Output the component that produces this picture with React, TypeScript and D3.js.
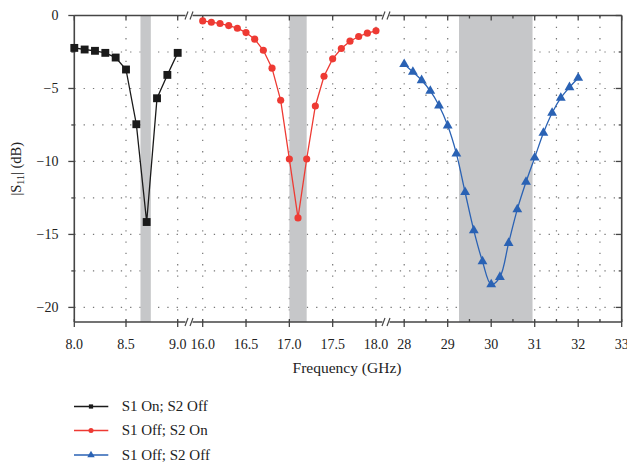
import React from "react";
import * as d3 from "d3";

const blackFreq = [8.0, 8.1, 8.2, 8.3, 8.4, 8.5, 8.6, 8.7, 8.8, 8.9, 9.0];
const blackVals = [-2.22, -2.33, -2.42, -2.56, -2.88, -3.7, -7.45, -14.15, -5.67, -4.07, -2.56];

const redFreq = [16.0, 16.1, 16.2, 16.3, 16.4, 16.5, 16.6, 16.7, 16.8, 16.9, 17.0, 17.1, 17.2, 17.3, 17.4, 17.5, 17.6, 17.7, 17.8, 17.9, 18.0];
const redVals = [-0.37, -0.46, -0.55, -0.69, -0.87, -1.17, -1.62, -2.38, -3.61, -5.81, -9.83, -13.87, -9.83, -6.2, -4.16, -2.97, -2.26, -1.76, -1.44, -1.21, -1.05];

const blueFreq = [28.0, 28.2, 28.4, 28.6, 28.8, 29.0, 29.2, 29.4, 29.6, 29.8, 30.0, 30.2, 30.4, 30.6, 30.8, 31.0, 31.2, 31.4, 31.6, 31.8, 32.0];
const blueVals = [-3.34, -3.87, -4.44, -5.17, -6.17, -7.54, -9.46, -12.11, -14.72, -16.85, -18.42, -17.92, -15.59, -13.28, -11.41, -9.74, -8.05, -6.68, -5.65, -4.92, -4.28];

const seg1Ticks = ["8.0", "8.5", "9.0"];
const seg2Ticks = ["16.0", "16.5", "17.0", "17.5", "18.0"];
const seg3Ticks = ["28", "29", "30", "31", "32", "33"];
const seg3Minor = [28.5, 29.5, 30.5, 31.5, 32.5];
const yTicks = [0, -5, -10, -15, -20];
const yMinor = [-2.5, -7.5, -12.5, -17.5];

const bands = [
  { seg: 0, from: 8.64, to: 8.74 },
  { seg: 1, from: 17.0, to: 17.2 },
  { seg: 2, from: 29.26, to: 30.95 },
];

const legendLabels = ["S1 On; S2 Off", "S1 Off; S2 On", "S1 Off; S2 Off"];
const colors = ["#1a1a1a", "#ee3a33", "#2a62b4"];

const FONT = "'Liberation Serif', 'Times New Roman', serif";
const AX = "#454545";

export default function App() {
  const left = 74.3, right = 621.7, top = 15.5, bottom = 322;
  const segs = [
    d3.scaleLinear().domain([8, 9]).range([74.3, 177.7]),
    d3.scaleLinear().domain([16, 18]).range([202.7, 376]),
    d3.scaleLinear().domain([28, 33]).range([404.2, 621.7]),
  ];
  const breaks = [189, 386];
  const y = d3.scaleLinear().domain([-21, 0]).range([bottom, top]);

  const series = [
    { f: blackFreq, v: blackVals, s: 0, curve: d3.curveLinear },
    { f: redFreq, v: redVals, s: 1, curve: d3.curveLinear },
    { f: blueFreq, v: blueVals, s: 2, curve: d3.curveCatmullRom },
  ];

  const gridY = [-2.5, -5, -7.5, -10, -12.5, -15, -17.5, -20];
  const gridX: number[] = [
    ...[8.5, 9.0].map((d) => segs[0](d)),
    ...[16, 16.5, 17, 17.5, 18].map((d) => segs[1](d)),
    ...[28, 28.5, 29, 29.5, 30, 30.5, 31, 31.5, 32, 32.5].map((d) => segs[2](d)),
  ];

  const majorX: { x: number; label: string }[] = [
    ...seg1Ticks.map((t) => ({ x: segs[0](+t), label: t })),
    ...seg2Ticks.map((t) => ({ x: segs[1](+t), label: t })),
    ...seg3Ticks.map((t) => ({ x: segs[2](+t), label: t })),
  ];
  const minorX = seg3Minor.map((d) => segs[2](d));

  const sq = d3.symbol().type(d3.symbolSquare).size(62)();
  const circ = d3.symbol().type(d3.symbolCircle).size(40)();
  const tri = d3.symbol().type(d3.symbolTriangle).size(42)();
  const markers = [sq, circ, tri];
  const sqS = d3.symbol().type(d3.symbolSquare).size(18)();
  const circS = d3.symbol().type(d3.symbolCircle).size(20)();
  const triS = d3.symbol().type(d3.symbolTriangle).size(24)();
  const legMarkers = [sqS, circS, triS];

  return (
    <svg width={627} height={464} style={{ position: "absolute", left: 0, top: 0, background: "#fff" }}>
      {/* grid */}
      {gridY.map((g) => (
        <line key={"gy" + g} x1={left} x2={right} y1={y(g)} y2={y(g)} stroke="#777" strokeWidth={1.2} strokeDasharray="1.3 8" />
      ))}
      {gridX.map((gx, i) => (
        <line key={"gx" + i} x1={gx} x2={gx} y1={top} y2={bottom} stroke="#777" strokeWidth={1.2} strokeDasharray="1.3 10" />
      ))}
      {/* shaded bands */}
      {bands.map((b, i) => (
        <rect key={"b" + i} x={segs[b.seg](b.from)} width={segs[b.seg](b.to) - segs[b.seg](b.from)} y={top} height={bottom - top} fill="#c6c7c9" />
      ))}
      {/* axes frame */}
      <line x1={left} x2={right} y1={top} y2={top} stroke={AX} strokeWidth={1.6} />
      <line x1={left} x2={right} y1={bottom} y2={bottom} stroke={AX} strokeWidth={1.6} />
      <line x1={left} x2={left} y1={top} y2={bottom} stroke={AX} strokeWidth={1.6} />
      <line x1={right} x2={right} y1={top} y2={bottom} stroke={AX} strokeWidth={1.6} />
      {/* x ticks */}
      {majorX.map((t, i) => (
        <g key={"xt" + i}>
          <line x1={t.x} x2={t.x} y1={bottom - 3} y2={bottom + 5} stroke={AX} strokeWidth={1.3} />
          <line x1={t.x} x2={t.x} y1={top} y2={top + 5} stroke={AX} strokeWidth={1.3} />
          <text x={t.x} y={349} textAnchor="middle" fontFamily={FONT} fontSize={14} fill="#222">{t.label}</text>
        </g>
      ))}
      {minorX.map((mx, i) => (
        <g key={"mx" + i}>
          <line x1={mx} x2={mx} y1={bottom - 3} y2={bottom} stroke={AX} strokeWidth={1.3} />
          <line x1={mx} x2={mx} y1={top} y2={top + 3} stroke={AX} strokeWidth={1.3} />
        </g>
      ))}
      {/* y ticks */}
      {yTicks.map((t) => (
        <g key={"yt" + t}>
          <line x1={left - 6} x2={left} y1={y(t)} y2={y(t)} stroke={AX} strokeWidth={1.3} />
          <line x1={right - 6} x2={right} y1={y(t)} y2={y(t)} stroke={AX} strokeWidth={1.3} />
          <text x={58.5} y={y(t)} dy="0.35em" textAnchor="end" fontFamily={FONT} fontSize={14} fill="#222">
            {t === 0 ? "0" : "\u2212" + Math.abs(t)}
          </text>
        </g>
      ))}
      {yMinor.map((t) => (
        <g key={"ym" + t}>
          <line x1={left - 3} x2={left} y1={y(t)} y2={y(t)} stroke={AX} strokeWidth={1.3} />
          <line x1={right - 3} x2={right} y1={y(t)} y2={y(t)} stroke={AX} strokeWidth={1.3} />
        </g>
      ))}
      {/* series */}
      {series.map((s, si) => {
        const pts: [number, number][] = s.f.map((f, i) => [segs[s.s](f), y(s.v[i])]);
        const path = d3.line().curve(s.curve)(pts) || "";
        return (
          <g key={"s" + si}>
            <path d={path} fill="none" stroke={colors[si]} strokeWidth={1.3} />
            {pts.map((p, i) => (
              <path key={i} d={markers[si]} transform={`translate(${p[0]},${p[1]})`} fill={colors[si]} />
            ))}
          </g>
        );
      })}
      {/* breaks */}
      {breaks.map((bx) =>
        [top, bottom].map((by) => (
          <g key={"br" + bx + "-" + by}>
            <rect x={bx - 3.5} y={by - 2} width={7} height={4} fill="#fff" />
            <line x1={bx - 4} x2={bx - 1} y1={by + 4} y2={by - 4} stroke={AX} strokeWidth={1.2} />
            <line x1={bx + 1} x2={bx + 4} y1={by + 4} y2={by - 4} stroke={AX} strokeWidth={1.2} />
          </g>
        ))
      )}
      {/* axis titles */}
      <text x={347} y={373} textAnchor="middle" fontFamily={FONT} fontSize={15.5} fill="#222">Frequency (GHz)</text>
      <text transform={`translate(21,${(top + bottom) / 2}) rotate(-90)`} textAnchor="middle" fontFamily={FONT} fontSize={14.5} fill="#222">
        |S<tspan fontSize={10} dy={3}>11</tspan><tspan dy={-3}>| (dB)</tspan>
      </text>
      {/* legend */}
      {legendLabels.map((l, i) => {
        const ly = [406.5, 430.5, 455][i];
        return (
          <g key={"lg" + i}>
            <line x1={74} x2={108.3} y1={ly} y2={ly} stroke={colors[i]} strokeWidth={1.3} />
            <path d={legMarkers[i]} transform={`translate(91,${ly})`} fill={colors[i]} />
            <text x={121.7} y={ly} dy="0.33em" fontFamily={FONT} fontSize={15} fill="#222">{l}</text>
          </g>
        );
      })}
    </svg>
  );
}
